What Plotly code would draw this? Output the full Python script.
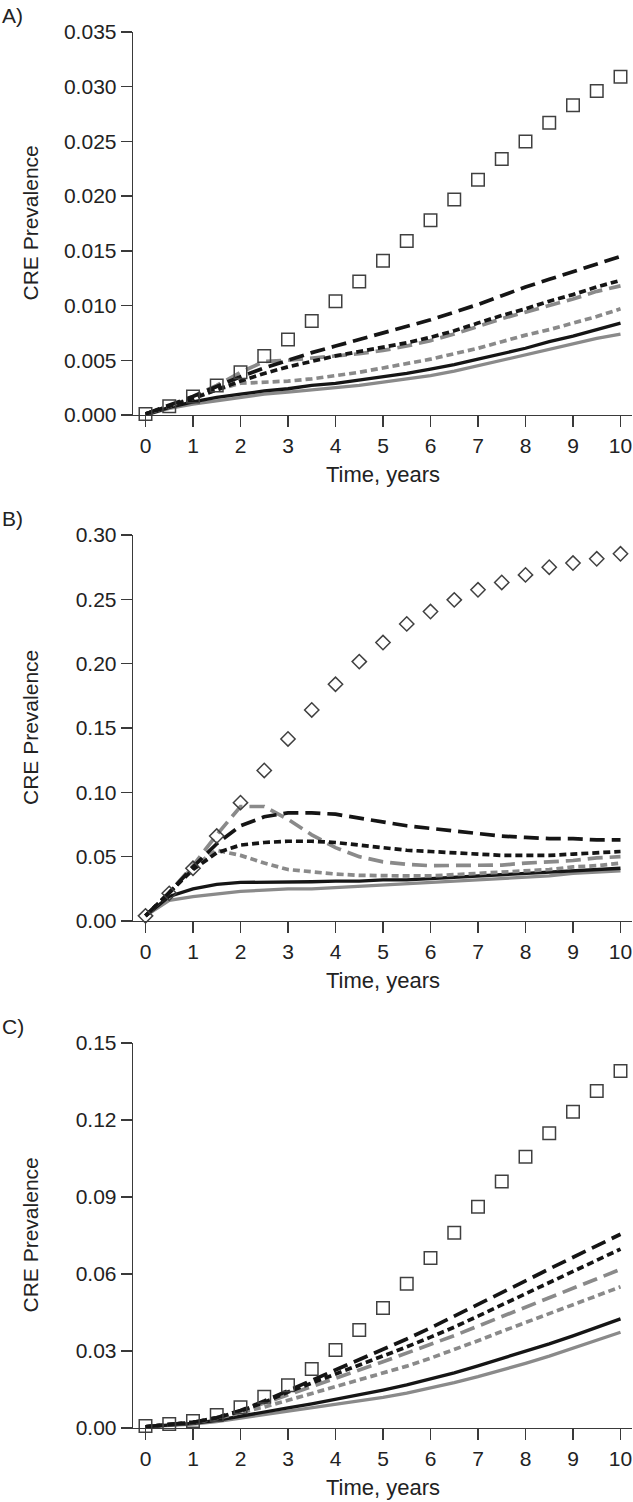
import plotly.graph_objects as go

years = [0, 0.5, 1, 1.5, 2, 2.5, 3, 3.5, 4, 4.5, 5, 5.5, 6, 6.5, 7, 7.5, 8, 8.5, 9, 9.5, 10]

# ---------------- Panel A ----------------
a_obs = [0.0001, 0.0008, 0.0017, 0.0027, 0.0039, 0.0054, 0.0069, 0.0086, 0.0104, 0.0122, 0.0141,
         0.0159, 0.0178, 0.0197, 0.0215, 0.0234, 0.0250, 0.0267, 0.0283, 0.0296, 0.0309]
a_black_long = [0.0001, 0.0009, 0.0017, 0.0026, 0.0035, 0.0043, 0.0050, 0.0057, 0.0063, 0.0069, 0.0075,
                0.0081, 0.0087, 0.0094, 0.0101, 0.0109, 0.0117, 0.0124, 0.0131, 0.0138, 0.0145]
a_black_short = [0.0001, 0.0008, 0.0015, 0.0023, 0.0031, 0.0038, 0.0044, 0.0049, 0.0054, 0.0058, 0.0062,
                 0.0066, 0.0071, 0.0077, 0.0084, 0.0091, 0.0097, 0.0104, 0.0110, 0.0117, 0.0123]
a_gray_long = [0.0001, 0.0008, 0.0017, 0.0027, 0.0039, 0.0049, 0.0050, 0.0052, 0.0054, 0.0056, 0.0059,
               0.0063, 0.0068, 0.0074, 0.0081, 0.0088, 0.0094, 0.0100, 0.0106, 0.0113, 0.0118]
a_gray_short = [0.0001, 0.0008, 0.0016, 0.0023, 0.0029, 0.0030, 0.0031, 0.0033, 0.0036, 0.0039, 0.0043,
                0.0047, 0.0051, 0.0056, 0.0061, 0.0067, 0.0073, 0.0078, 0.0084, 0.0090, 0.0097]
a_black_solid = [0.0000, 0.0007, 0.0012, 0.0016, 0.0019, 0.0022, 0.0024, 0.0027, 0.0029, 0.0032, 0.0035,
                 0.0038, 0.0042, 0.0046, 0.0051, 0.0056, 0.0061, 0.0067, 0.0072, 0.0078, 0.0084]
a_gray_solid = [0.0000, 0.0006, 0.0010, 0.0013, 0.0016, 0.0019, 0.0021, 0.0023, 0.0025, 0.0027, 0.0030,
                0.0033, 0.0036, 0.0040, 0.0045, 0.0050, 0.0055, 0.0060, 0.0065, 0.0070, 0.0074]

# ---------------- Panel B ----------------
b_obs = [0.004, 0.0215, 0.041, 0.066, 0.092, 0.117, 0.1415, 0.164, 0.184, 0.2016, 0.2164,
         0.2309, 0.2405, 0.2496, 0.2574, 0.2631, 0.2690, 0.2750, 0.2782, 0.2815, 0.2854]
b_black_long = [0.004, 0.022, 0.042, 0.060, 0.074, 0.081, 0.084, 0.084, 0.083, 0.080, 0.077,
                0.074, 0.072, 0.070, 0.068, 0.066, 0.065, 0.064, 0.064, 0.063, 0.063]
b_black_short = [0.004, 0.022, 0.040, 0.053, 0.059, 0.061, 0.062, 0.062, 0.061, 0.059, 0.057,
                 0.055, 0.054, 0.053, 0.052, 0.051, 0.051, 0.051, 0.052, 0.053, 0.054]
b_gray_long = [0.004, 0.022, 0.043, 0.067, 0.089, 0.089, 0.079, 0.067, 0.057, 0.050, 0.046,
               0.044, 0.043, 0.043, 0.043, 0.0435, 0.045, 0.046, 0.047, 0.049, 0.050]
b_gray_short = [0.004, 0.022, 0.042, 0.055, 0.051, 0.045, 0.040, 0.038, 0.0365, 0.0355, 0.035,
                0.035, 0.035, 0.036, 0.037, 0.038, 0.039, 0.040, 0.042, 0.043, 0.045]
b_black_solid = [0.004, 0.019, 0.025, 0.0285, 0.030, 0.030, 0.0303, 0.0305, 0.031, 0.031, 0.032,
                 0.032, 0.033, 0.034, 0.035, 0.036, 0.037, 0.038, 0.039, 0.040, 0.041]
b_gray_solid = [0.004, 0.016, 0.019, 0.021, 0.023, 0.024, 0.025, 0.025, 0.026, 0.027, 0.028,
                0.029, 0.030, 0.031, 0.032, 0.033, 0.034, 0.035, 0.037, 0.038, 0.039]

# ---------------- Panel C ----------------
c_obs = [0.0008, 0.0016, 0.0027, 0.0051, 0.0081, 0.0122, 0.0167, 0.0230, 0.0304, 0.0382, 0.0468,
         0.0562, 0.0662, 0.0761, 0.0862, 0.0960, 0.1057, 0.1148, 0.1232, 0.1313, 0.1391]
c_black_long = [0.0005, 0.0012, 0.0022, 0.0040, 0.0068, 0.0105, 0.0145, 0.0185, 0.0225, 0.0265, 0.0305,
                0.0347, 0.0390, 0.0435, 0.0480, 0.0527, 0.0573, 0.0620, 0.0665, 0.0710, 0.0755]
c_black_short = [0.0005, 0.0012, 0.0022, 0.0040, 0.0066, 0.0100, 0.0140, 0.0175, 0.0210, 0.0245, 0.0280,
                 0.0316, 0.0354, 0.0393, 0.0436, 0.0479, 0.0522, 0.0566, 0.0610, 0.0653, 0.0697]
c_gray_long = [0.0005, 0.0012, 0.0022, 0.0040, 0.0066, 0.0097, 0.0130, 0.0162, 0.0194, 0.0226, 0.0258,
               0.0291, 0.0325, 0.0360, 0.0397, 0.0434, 0.0470, 0.0507, 0.0545, 0.0582, 0.0618]
c_gray_short = [0.0005, 0.0012, 0.0021, 0.0037, 0.0058, 0.0082, 0.0108, 0.0134, 0.0160, 0.0186, 0.0212,
                0.0241, 0.0272, 0.0305, 0.0340, 0.0376, 0.0411, 0.0446, 0.0481, 0.0516, 0.0550]
c_black_solid = [0.0005, 0.0010, 0.0018, 0.0030, 0.0045, 0.0061, 0.0078, 0.0094, 0.0111, 0.0129, 0.0148,
                 0.0168, 0.0190, 0.0215, 0.0242, 0.0270, 0.0299, 0.0328, 0.0359, 0.0391, 0.0425]
c_gray_solid = [0.0005, 0.0009, 0.0015, 0.0025, 0.0038, 0.0052, 0.0066, 0.0079, 0.0092, 0.0105, 0.0119,
                0.0136, 0.0155, 0.0177, 0.0200, 0.0225, 0.0252, 0.0280, 0.0310, 0.0341, 0.0373]

x_ticks = [0, 1, 2, 3, 4, 5, 6, 7, 8, 9, 10]
a_ticks = [0.000, 0.005, 0.010, 0.015, 0.020, 0.025, 0.030, 0.035]
a_labels = ["0.000", "0.005", "0.010", "0.015", "0.020", "0.025", "0.030", "0.035"]
b_ticks = [0.00, 0.05, 0.10, 0.15, 0.20, 0.25, 0.30]
b_labels = ["0.00", "0.05", "0.10", "0.15", "0.20", "0.25", "0.30"]
c_ticks = [0.00, 0.03, 0.06, 0.09, 0.12, 0.15]
c_labels = ["0.00", "0.03", "0.06", "0.09", "0.12", "0.15"]

panel_labels = ["A)", "B)", "C)"]
x_title = "Time, years"
y_title = "CRE Prevalence"

BLACK = "#151515"
GRAY = "#8a8a8a"
AXIS = "#3a3a3a"
TXT = "#222"
FONT = "Liberation Sans, Arial, sans-serif"
LONG = "15px,7px"
SHORT = "7px,4px"

W, H = 633, 1502
fig = go.Figure()

panels = [
    dict(obs=a_obs, sym="square-open", msize=12.5,
         lines=[(a_gray_solid, GRAY, "solid"), (a_black_solid, BLACK, "solid"),
                (a_gray_short, GRAY, SHORT), (a_gray_long, GRAY, LONG),
                (a_black_short, BLACK, SHORT), (a_black_long, BLACK, LONG)],
         ticks=a_ticks, labels=a_labels, yr=[0, 0.035], top=32, bot=415),
    dict(obs=b_obs, sym="diamond-open", msize=11,
         lines=[(b_gray_solid, GRAY, "solid"), (b_black_solid, BLACK, "solid"),
                (b_gray_short, GRAY, SHORT), (b_gray_long, GRAY, LONG),
                (b_black_short, BLACK, SHORT), (b_black_long, BLACK, LONG)],
         ticks=b_ticks, labels=b_labels, yr=[0, 0.30], top=535, bot=921),
    dict(obs=c_obs, sym="square-open", msize=12.5,
         lines=[(c_gray_solid, GRAY, "solid"), (c_black_solid, BLACK, "solid"),
                (c_gray_short, GRAY, SHORT), (c_gray_long, GRAY, LONG),
                (c_black_short, BLACK, SHORT), (c_black_long, BLACK, LONG)],
         ticks=c_ticks, labels=c_labels, yr=[0, 0.15], top=1043, bot=1428),
]

x_dom = [133 / W, 632 / W]
x_rng = [-0.263, 10.242]
annotations = []

for i, p in enumerate(panels):
    n = "" if i == 0 else str(i + 1)
    xa, ya = "x" + n, "y" + n
    for vals, col, dash in p["lines"]:
        fig.add_trace(go.Scatter(x=years, y=vals, mode="lines", xaxis=xa, yaxis=ya,
                                 line=dict(color=col, width=3.7 if dash != "solid" else 3.3, dash=dash),
                                 showlegend=False, cliponaxis=False, hoverinfo="skip"))
    fig.add_trace(go.Scatter(x=years, y=p["obs"], mode="markers", xaxis=xa, yaxis=ya,
                             marker=dict(symbol=p["sym"], size=p["msize"], color="#404040",
                                         line=dict(width=1.5, color="#404040")),
                             showlegend=False, cliponaxis=False, hoverinfo="skip"))
    ydom = [1 - p["bot"] / H, 1 - p["top"] / H]
    common = dict(showline=True, linecolor=AXIS, linewidth=1.3, ticks="outside", ticklen=11,
                  tickcolor=AXIS, tickwidth=1.3, showgrid=False, zeroline=False, automargin=False,
                  tickfont=dict(family=FONT, size=21, color=TXT))
    fig.layout["xaxis" + n] = dict(domain=x_dom, range=x_rng, anchor=ya, tickvals=x_ticks,
                                   ticktext=[str(t) for t in x_ticks], **common)
    fig.layout["yaxis" + n] = dict(domain=ydom, range=p["yr"], anchor=xa, tickvals=p["ticks"],
                                   ticktext=p["labels"], **common)
    annotations.append(dict(text=panel_labels[i], x=0, y=1 - (p["top"] - 17) / H, xref="paper",
                            yref="paper", xanchor="left", yanchor="middle", showarrow=False,
                            font=dict(family=FONT, size=21, color=TXT)))
    annotations.append(dict(text=x_title, x=(145.5 + 47.5 * 5) / W, y=1 - (p["bot"] + 59) / H,
                            xref="paper", yref="paper", xanchor="center", yanchor="middle",
                            showarrow=False, font=dict(family=FONT, size=22, color=TXT)))
    annotations.append(dict(text=y_title, x=30 / W, y=1 - (p["top"] + p["bot"]) / 2 / H,
                            xref="paper", yref="paper", xanchor="center", yanchor="middle",
                            textangle=-90, showarrow=False,
                            font=dict(family=FONT, size=21, color=TXT)))

fig.update_layout(width=W, height=H, margin=dict(l=0, r=0, t=0, b=0, autoexpand=False),
                  paper_bgcolor="white", plot_bgcolor="white", annotations=annotations,
                  hovermode=False, dragmode=False)

fig.write_html("out.html", config={"displayModeBar": False, "staticPlot": True},
               post_script="document.body.style.margin='0';document.body.style.overflow='hidden';")
